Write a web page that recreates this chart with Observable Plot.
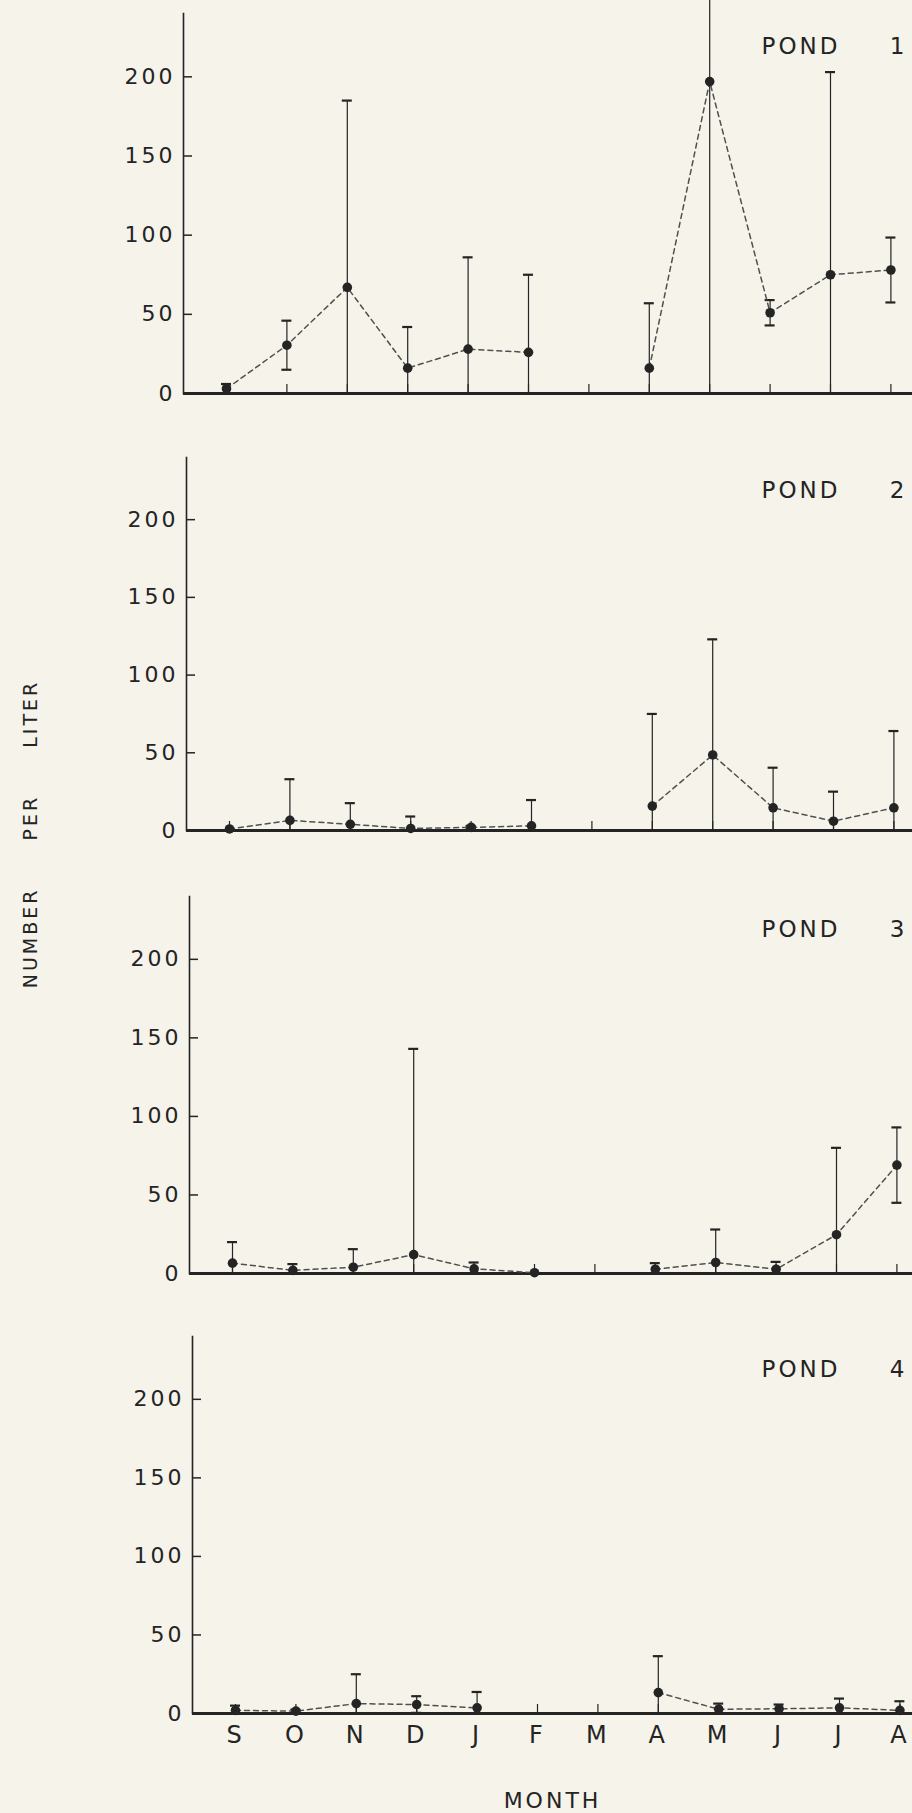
<!DOCTYPE html>
<html>
<head>
<meta charset="utf-8">
<script src="https://cdn.jsdelivr.net/npm/d3@7"></script>
<script src="https://cdn.jsdelivr.net/npm/@observablehq/plot@0.6"></script>
<style>
  html, body { margin: 0; padding: 0; background: #f5f3ea; }
  #wrap { position: relative; width: 912px; height: 1813px; overflow: hidden; background: #f5f3ea;
          font-family: "DejaVu Sans", sans-serif; color: #242424; }
  .panel { position: absolute; left: 0; }
  .panel svg { display: block; }
  .panel text { letter-spacing: 3px; }
  #ytitle { position: absolute; left: 30px; top: 834px; transform: translate(-50%, -50%) rotate(-90deg);
            white-space: nowrap; font-size: 19px; letter-spacing: 3px; word-spacing: 38px; line-height: 1; }
</style>
</head>
<body>
<div id="wrap"><div id="ytitle">NUMBER PER LITER</div></div>
<script>
// ---- data ----
const months = ["S", "O", "N", "D", "J", "F", "M", "A", "M", "J", "J", "A"];
const pondLabels = ["1", "2", "3", "4"];
const yTicks = [0, 50, 100, 150, 200];

// mean number per liter (null = no sample)
const pond1Mean = [3, 30.5, 67, 16, 28, 26, null, 16, 197, 51, 75, 78];
const pond2Mean = [1, 6.5, 4, 1.3, 2, 3, null, 15.7, 48.6, 14.6, 6, 14.6];
const pond3Mean = [6.6, 2, 4, 12, 3, 0.5, null, 2.7, 7, 2.7, 24.7, 69];
const pond4Mean = [2, 1.5, 6.3, 5.7, 3.6, null, null, 13.3, 2.7, 3, 3.6, 2];

// error (+/-) around the mean
const pond1Err = [3, 15.5, 118, 26, 58, 49, null, 41, 210, 8, 128, 20.5];
const pond2Err = [0, 26.5, 13.6, 7.7, 1, 16.6, null, 59.3, 74.4, 25.8, 19, 49.4];
const pond3Err = [13.4, 4, 11.5, 131, 4, 0, null, 3.9, 21, 4.7, 55.3, 24];
const pond4Err = [3, 1, 18.7, 5.3, 10.1, null, null, 23.2, 3.6, 2.7, 5.9, 5.8];

const means = [pond1Mean, pond2Mean, pond3Mean, pond4Mean];
const errs = [pond1Err, pond2Err, pond3Err, pond4Err];

// ---- layout ----
const ink = "#242424";
const font = "DejaVu Sans, sans-serif";
const step = 60.4;          // px between months
const sOffset = 43;         // px from y axis to first month
const layout = [
  {top: 0,    mt: 13, ph: 380, mb: 30, ml: 183},
  {top: 437,  mt: 20, ph: 373, mb: 30, ml: 186},
  {top: 880,  mt: 16, ph: 377, mb: 30, ml: 189},
  {top: 1320, mt: 16, ph: 377, mb: 100, ml: 192}
];
const capHalf = 5 / step;

const wrap = document.getElementById("wrap");

layout.forEach((L, i) => {
  const last = i === layout.length - 1;
  const rows = months.map((m, k) => ({k, m, v: means[i][k], e: errs[i][k]}));
  const pts = rows.filter(d => d.v != null);
  const bars = pts.filter(d => d.e > 0);
  const lo = d => Math.max(0, d.v - d.e);
  const hi = d => d.v + d.e;
  const x0 = L.ml + sOffset;
  const height = L.mt + L.ph + L.mb;

  const marks = [
    Plot.frame({anchor: "left", stroke: ink, strokeWidth: 1.6}),
    Plot.axisY({ticks: yTicks, tickSize: 0, tickPadding: 8, fontSize: 22, fontFamily: font, label: null}),
    Plot.tickY(yTicks, {y: d => d, insetRight: 912 - L.ml - 9, stroke: ink, strokeWidth: 1.5}),
    Plot.tickX(rows, {x: "k", insetTop: L.ph - 9, stroke: ink, strokeWidth: 1.2}),
    Plot.ruleY([0], {stroke: ink, strokeWidth: 3}),
    Plot.ruleX(bars, {x: "k", y1: lo, y2: hi, stroke: ink, strokeWidth: 1.2}),
    Plot.ruleY(bars, {x1: d => d.k - capHalf, x2: d => d.k + capHalf, y: hi, stroke: ink, strokeWidth: 2.2}),
    Plot.ruleY(bars.filter(d => lo(d) > 0), {x1: d => d.k - capHalf, x2: d => d.k + capHalf, y: lo, stroke: ink, strokeWidth: 2.2}),
    Plot.line(rows, {x: "k", y: "v", stroke: "#505050", strokeWidth: 1.5, strokeDasharray: "5,4"}),
    Plot.dot(pts, {x: "k", y: "v", r: 4.8, fill: ink}),
    Plot.text(["POND"], {frameAnchor: "top-right", dx: -72, dy: 33, textAnchor: "end", lineAnchor: "middle", fontSize: 23, fontFamily: font, fill: ink}),
    Plot.text([pondLabels[i]], {frameAnchor: "top-right", dx: -14, dy: 33, textAnchor: "middle", lineAnchor: "middle", fontSize: 23, fontFamily: font, fill: ink})
  ];
  if (last) {
    marks.push(Plot.axisX({ticks: months.map((m, k) => k), tickFormat: k => months[k], tickSize: 0, tickPadding: 12, fontSize: 24, fontFamily: font, label: null}));
    marks.push(Plot.text(["MONTH"], {frameAnchor: "bottom", dy: 87, lineAnchor: "middle", fontSize: 22, fontFamily: font, fill: ink}));
  }

  const chart = Plot.plot({
    width: 912,
    height,
    marginLeft: L.ml,
    marginRight: 0,
    marginTop: L.mt,
    marginBottom: L.mb,
    x: last ? {domain: [0, 11], range: [x0, x0 + 11 * step]} : {domain: [0, 11], range: [x0, x0 + 11 * step], axis: null},
    y: {domain: [0, 240]},
    style: {background: "transparent", color: ink, fontFamily: font},
    marks
  });
  const div = document.createElement("div");
  div.className = "panel";
  div.style.top = L.top + "px";
  div.appendChild(chart);
  wrap.appendChild(div);
});
</script>
</body>
</html>
